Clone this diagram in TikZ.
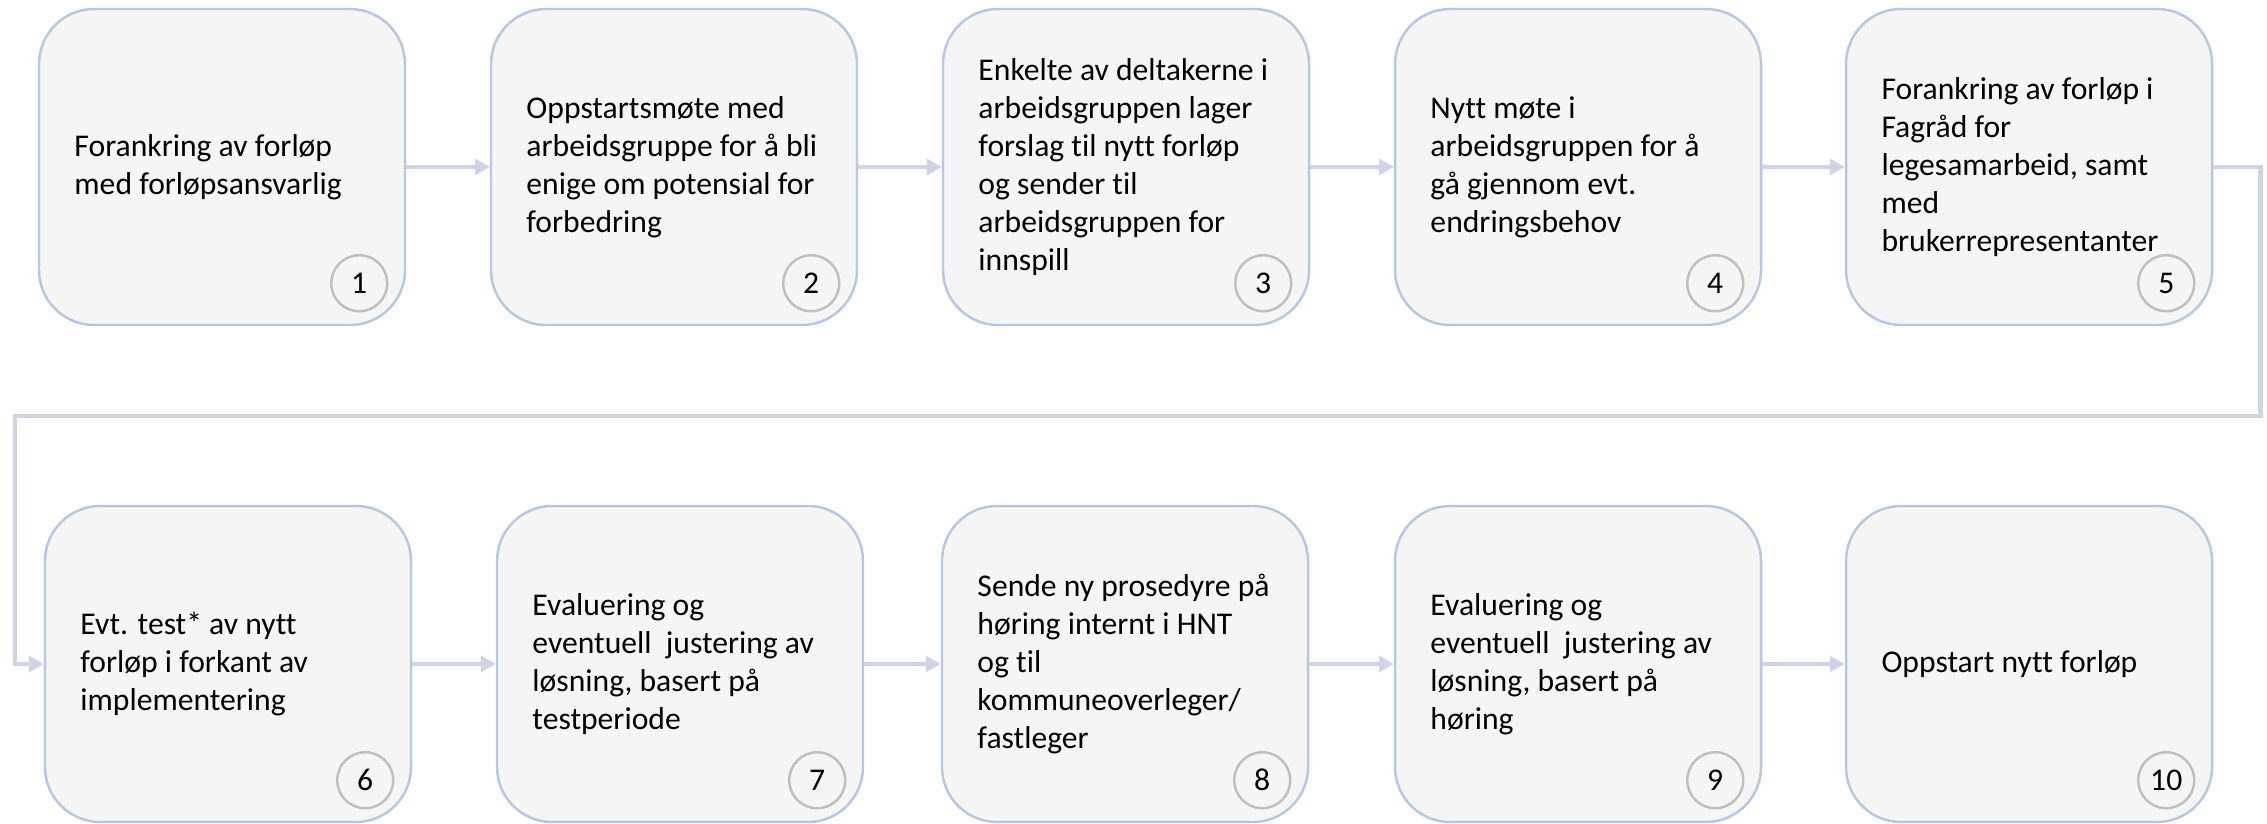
\documentclass[tikz,border=0pt]{standalone}
\usepackage{fontspec}
\setmainfont{Carlito}[Ligatures=NoCommon]
\usetikzlibrary{arrows.meta}

\definecolor{boxline}{RGB}{180,199,231}
\definecolor{boxfill}{RGB}{245,245,245}
\definecolor{flowline}{RGB}{205,212,228}
\definecolor{numline}{RGB}{191,191,191}

\begin{document}
\begin{tikzpicture}[
        stepbox/.style={rectangle, rounded corners=0.55cm, draw=boxline, fill=boxfill, line width=0.7pt, minimum width=3.66cm, minimum height=3.16cm},
        steptext/.style={anchor=west, align=left, inner sep=0pt, font=\fontsize{9}{10.8}\selectfont},
        stepnum/.style={circle, draw=numline, fill=boxfill, line width=0.7pt, minimum size=0.56cm, inner sep=0pt, font=\fontsize{9}{10.8}\selectfont},
        flow/.style={draw=flowline, line width=1.4pt, -{Triangle[length=1.5mm, width=1.6mm]}}
    ]
    \useasboundingbox (0,0) rectangle (22.67,-8.23);

    % Top row
    \foreach \i/\x in {1/2.22, 2/6.74, 3/11.26, 4/15.78, 5/20.29} {
        \node[stepbox] (b\i) at (\x, -1.67) {};
    }
    % Bottom row
    \foreach \i/\x in {6/2.28, 7/6.80, 8/11.25, 9/15.78, 10/20.29} {
        \node[stepbox] (b\i) at (\x, -6.64) {};
    }

    % Step texts
    \node[steptext] (t1) at ([xshift=0.36cm]b1.west) {Forankring av forløp\\med forløpsansvarlig};
    \node[steptext] (t2) at ([xshift=0.36cm]b2.west) {Oppstartsmøte med\\arbeidsgruppe for å bli\\enige om potensial for\\forbedring};
    \node[steptext] (t3) at ([xshift=0.36cm]b3.west) {Enkelte av deltakerne i\\arbeidsgruppen lager\\forslag til nytt forløp\\og sender til\\arbeidsgruppen for\\innspill};
    \node[steptext] (t4) at ([xshift=0.36cm]b4.west) {Nytt møte i\\arbeidsgruppen for å\\gå gjennom evt.\\endringsbehov};
    \node[steptext] (t5) at ([xshift=0.36cm]b5.west) {Forankring av forløp i\\Fagråd for\\legesamarbeid, samt\\med\\brukerrepresentanter};
    \node[steptext] (t6) at ([xshift=0.36cm]b6.west) {Evt. test* av nytt\\forløp i forkant av\\implementering};
    \node[steptext] (t7) at ([xshift=0.36cm]b7.west) {Evaluering og\\eventuell\ \ justering av\\løsning, basert på\\testperiode};
    \node[steptext] (t8) at ([xshift=0.36cm]b8.west) {Sende ny prosedyre på\\høring internt i HNT\\og til\\kommuneoverleger/\\fastleger};
    \node[steptext] (t9) at ([xshift=0.36cm]b9.west) {Evaluering og\\eventuell\ \ justering av\\løsning, basert på\\høring};
    \node[steptext] (t10) at ([xshift=0.36cm]b10.west) {Oppstart nytt forløp};

    % Step numbers
    \foreach \i in {1,...,10} {
        \node[stepnum] (n\i) at ([xshift=-0.47cm, yshift=0.43cm]b\i.south east) {\i};
    }

    % Connections
    \foreach \i/\j in {1/2, 2/3, 3/4, 4/5, 6/7, 7/8, 8/9, 9/10} {
        \draw[flow] (b\i) -- (b\j);
    }
    \coordinate (turnR) at (22.60, -4.16);
    \coordinate (turnL) at (0.15, -4.16);
    \draw[flow] (b5.east) -| (turnR) -- (turnL) |- (b6.west);
\end{tikzpicture}
\end{document}
